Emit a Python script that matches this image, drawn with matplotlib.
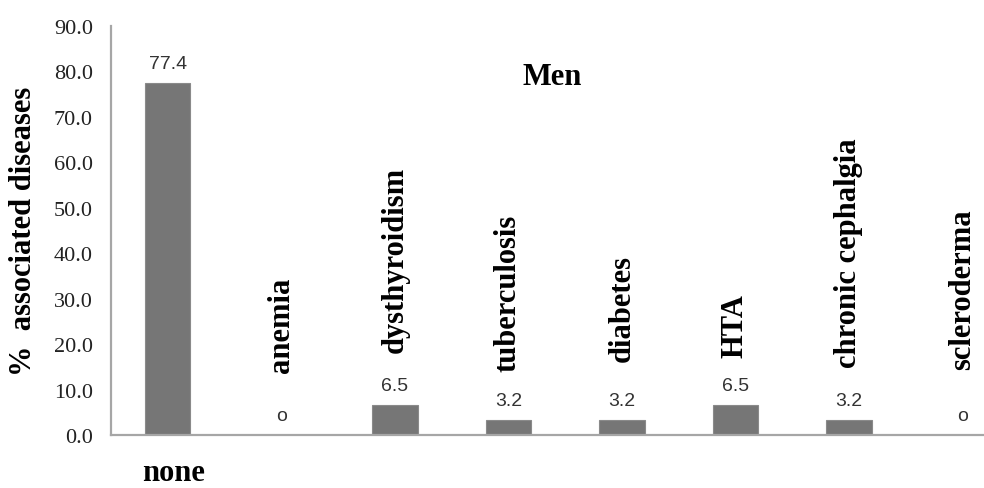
import numpy as np
import matplotlib.pyplot as plt

#-------------------------------- Data ---------------------------------------
diseases = ["none", "anemia", "dysthyroidism", "tuberculosis", "diabetes",
            "HTA", "chronic cephalgia", "scleroderma"]
percent = [77.4, 0, 6.5, 3.2, 3.2, 6.5, 3.2, 0]
value_text = ["77.4", "o", "6.5", "3.2", "3.2", "6.5", "3.2", "o"]

# where the upright disease names start (in % units above the axis)
name_y = [None, 13.9, 18.3, 14.1, 16.3, 17.2, 15.0, 14.5]
#------------------------------------------------------------------------------

serif = "Liberation Serif"
bar_color = "#767676"
axis_color = "#a6a6a6"

fig = plt.figure(figsize=(9.84, 4.89), dpi=100)
ax = fig.add_axes([0.1128, 0.1084, 0.8872, 0.8364])

x = np.arange(len(diseases))
ax.bar(x, percent, width=0.4, color=bar_color, edgecolor="#8a8a8a", linewidth=0.8)

ax.set_xlim(-0.5, 7.19)
ax.set_ylim(0, 90)
ax.set_yticks(np.arange(0, 91, 10))
ax.set_yticklabels([f"{v:.1f}" for v in np.arange(0, 91, 10)],
                   fontfamily=serif, fontsize=16, color="#222222")
ax.set_xticks([])
ax.tick_params(axis="y", length=0, pad=13)

for side in ["top", "right"]:
    ax.spines[side].set_visible(False)
for side in ["left", "bottom"]:
    ax.spines[side].set_color(axis_color)
    ax.spines[side].set_linewidth(1.6)

ax.set_ylabel("%  associated diseases", fontfamily=serif, fontsize=22,
              fontweight="bold")
ax.yaxis.set_label_coords(-0.084, 0.5)

# value labels above the bars
for xi, v, t in zip(x, percent, value_text):
    ax.annotate(t, (xi, v), xytext=(0, 8), textcoords="offset points",
                ha="center", va="bottom", fontfamily="Liberation Sans",
                fontsize=14, color="#333333")

# disease names: first one under the axis, the rest standing upright
ax.text(0.05, -8.2, diseases[0], ha="center", va="center", fontfamily=serif,
        fontsize=22, fontweight="bold", clip_on=False)
for xi, name, ny in zip(x[1:], diseases[1:], name_y[1:]):
    ax.text(xi, ny, name, rotation=90, ha="center", va="bottom",
            fontfamily=serif, fontsize=22, fontweight="bold")

ax.text(3.39, 78.8, "Men", ha="center", va="center", fontfamily=serif,
        fontsize=22, fontweight="bold")

fig.savefig("out.png", dpi=100)
